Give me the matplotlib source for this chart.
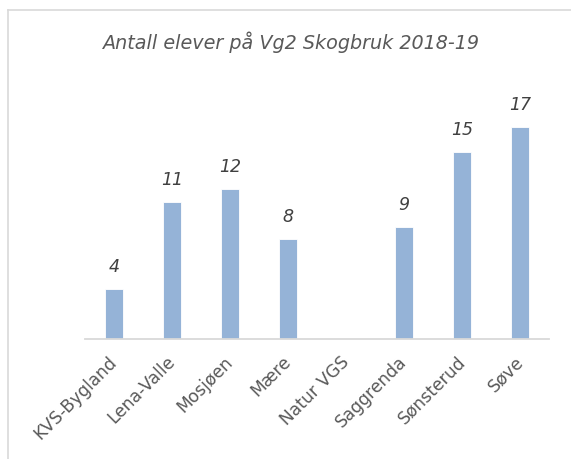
import numpy as np
import matplotlib.pyplot as plt
import matplotlib.transforms as mtransforms
from matplotlib.lines import Line2D

# data
skoler = ['KVS-Bygland', 'Lena-Valle', 'Mosjøen', 'Mære', 'Natur VGS',
          'Saggrenda', 'Sønsterud', 'Søve']
elever = [4, 11, 12, 8, np.nan, 9, 15, 17]

bar_color = '#95B3D7'
text_color = '#595959'
font = 'DejaVu Sans'

fig = plt.figure(figsize=(5.71, 4.59), dpi=100)
ax = fig.add_axes([85/571, 120/459, 464/571, 225/459])

x = np.arange(len(skoler))
bars = ax.bar(x, elever, width=0.31, color=bar_color, edgecolor='white', linewidth=0.6)

# verdier over søylene
for xi, v in zip(x, elever):
    if np.isnan(v):
        continue
    ax.text(xi, v + 1.0, f'{int(v)}', ha='center', va='bottom',
            fontsize=12.5, style='italic', color='#404040', family=font)

ax.set_xlim(-0.5, len(skoler) - 0.5)
ax.set_ylim(0, 18)
ax.set_yticks([])
ax.set_xticks(x)
ax.set_xticklabels(skoler, rotation=45, ha='right', rotation_mode='anchor',
                   fontsize=12.3, color=text_color, family=font)
ax.tick_params(axis='x', length=0, pad=10)

# flytt etikettene litt mot venstre
offset = mtransforms.ScaledTranslation(-6/100, 0, fig.dpi_scale_trans)
for lbl in ax.get_xticklabels():
    lbl.set_transform(lbl.get_transform() + offset)

for s in ['top', 'right', 'left']:
    ax.spines[s].set_visible(False)
ax.spines['bottom'].set_color('#D9D9D9')
ax.spines['bottom'].set_linewidth(1.3)

fig.text(291/571, 1 - 42/459, 'Antall elever på Vg2 Skogbruk 2018-19',
         ha='center', va='center', fontsize=13.8, style='italic',
         color=text_color, family=font)

# ramme rundt diagrammet (beskåret)
fig.add_artist(Line2D([8/571, 1], [1 - 10/459, 1 - 10/459],
                      transform=fig.transFigure, color='#D9D9D9', lw=1.2))
fig.add_artist(Line2D([8/571, 8/571], [0, 1 - 10/459],
                      transform=fig.transFigure, color='#D9D9D9', lw=1.2))

plt.savefig('out.png', dpi=100)
